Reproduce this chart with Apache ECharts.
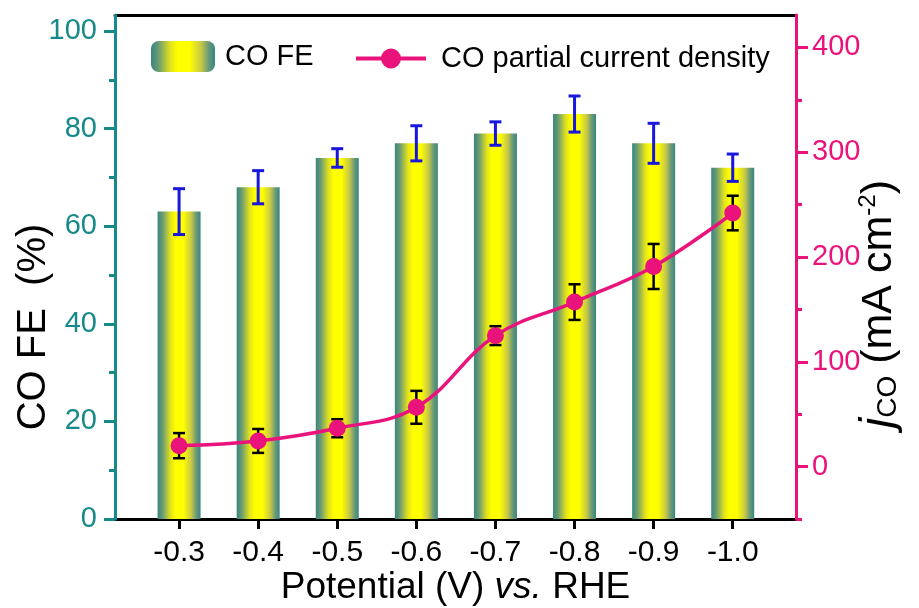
<!DOCTYPE html>
<html>
<head>
<meta charset="utf-8">
<script src="https://cdn.jsdelivr.net/npm/echarts@6/dist/echarts.min.js"></script>
<style>
  html, body { margin: 0; padding: 0; background: #ffffff; }
  #chart { width: 919px; height: 608px; }
</style>
</head>
<body>
<div id="chart"></div>
<script>
// Applied potential (V vs. RHE)
const potentials = [-0.3, -0.4, -0.5, -0.6, -0.7, -0.8, -0.9, -1.0];
// CO Faradaic efficiency (%) and its error
const coFE = [63, 68, 74, 77, 79, 83, 77, 72];
const coFEErr = [4.7, 3.4, 1.9, 3.6, 2.4, 3.7, 4.1, 2.8];
// CO partial current density (mA cm^-2) and its error
const jCO = [20, 24.5, 36.6, 56.6, 125, 157, 191, 242];
const jCOErr = [12, 11.4, 8.6, 15.7, 9, 17, 21.5, 16.5];
// Axis tick positions
const feTicks = [0, 20, 40, 60, 80, 100];
const feMinorTicks = [10, 30, 50, 70, 90];
const jTicks = [0, 100, 200, 300, 400];
const jMinorTicks = [-50, 50, 150, 250, 350];

const TEAL = '#17898a';
const PINK = '#ea137c';
const BLUE = '#1818dc';
const FONT = '"Liberation Sans", Arial, Helvetica, sans-serif';

const X_MIN = -1.08, X_MAX = -0.219;
const FE_MAX = 103.3;
const J_MIN = -50, J_MAX = 431;

const barGradient = new echarts.graphic.LinearGradient(0, 0, 1, 0, [
  { offset: 0, color: '#37867f' },
  { offset: 0.12, color: '#6c9c72' },
  { offset: 0.3, color: '#e2e21c' },
  { offset: 0.42, color: '#ffff00' },
  { offset: 0.6, color: '#ffff00' },
  { offset: 0.78, color: '#c9c945' },
  { offset: 0.9, color: '#6a9a78' },
  { offset: 1, color: '#37867f' }
]);

// Vertical error bar with caps, placed through the axis scales
function errorBarRenderer(color, capHalf, lineWidth) {
  return function (params, api) {
    const x = api.value(0), y = api.value(1), e = api.value(2);
    const top = api.coord([x, y + e]);
    const bot = api.coord([x, y - e]);
    const style = { stroke: color, lineWidth: lineWidth };
    return {
      type: 'group',
      children: [
        { type: 'line', shape: { x1: top[0], y1: top[1], x2: bot[0], y2: bot[1] }, style: style },
        { type: 'line', shape: { x1: top[0] - capHalf, y1: top[1], x2: top[0] + capHalf, y2: top[1] }, style: style },
        { type: 'line', shape: { x1: bot[0] - capHalf, y1: bot[1], x2: bot[0] + capHalf, y2: bot[1] }, style: style }
      ]
    };
  };
}

const feData = potentials.map((p, i) => [p, coFE[i]]);
const feErrData = potentials.map((p, i) => [p, coFE[i], coFEErr[i]]);
const jData = potentials.map((p, i) => [p, jCO[i]]);
const jErrData = potentials.map((p, i) => [p, jCO[i], jCOErr[i]]);

const chart = echarts.init(document.getElementById('chart'), null, { renderer: 'canvas' });

chart.setOption({
  backgroundColor: '#ffffff',
  animation: false,
  textStyle: { fontFamily: FONT },
  grid: { left: 115, right: 123, top: 15, bottom: 89, containLabel: false, outerBoundsMode: 'none' },
  legend: [
    {
      data: ['CO FE'],
      left: 151, top: 41, padding: 0,
      itemWidth: 64, itemHeight: 31,
      textStyle: { fontFamily: FONT, fontSize: 29, color: '#000', padding: [0, 0, 0, 5] }
    },
    {
      data: ['CO partial current density'],
      left: 354, top: 44, padding: 0,
      itemWidth: 70, itemHeight: 25,
      lineStyle: { width: 4 },
      textStyle: { fontFamily: FONT, fontSize: 29, color: '#000', padding: [0, 0, 0, 10] }
    }
  ],
  xAxis: [
    {
      type: 'value', inverse: true, min: X_MIN, max: X_MAX,
      position: 'bottom',
      axisLine: { show: true, onZero: false, lineStyle: { color: '#000', width: 3 } },
      axisTick: { show: true, inside: false, length: 10, lineStyle: { color: '#000', width: 3 }, customValues: potentials },
      axisLabel: {
        show: true, customValues: potentials, margin: 19,
        fontFamily: FONT, fontSize: 30, color: '#000',
        formatter: v => v.toFixed(1)
      },
      splitLine: { show: false },
      name: 'Potential (V) {i|vs.} RHE',
      nameLocation: 'middle', nameGap: 50, nameMoveOverlap: false,
      nameTextStyle: {
        fontFamily: FONT, fontSize: 37, color: '#000',
        rich: { i: { fontFamily: FONT, fontSize: 37, fontStyle: 'italic', color: '#000' } }
      }
    },
    {
      type: 'value', inverse: true, min: X_MIN, max: X_MAX,
      position: 'top',
      axisLine: { show: true, onZero: false, lineStyle: { color: '#000', width: 3 } },
      axisTick: { show: false }, axisLabel: { show: false }, splitLine: { show: false }
    }
  ],
  yAxis: [
    {
      type: 'value', min: 0, max: FE_MAX, position: 'left', z: 2,
      axisLine: { show: true, onZero: false, lineStyle: { color: TEAL, width: 3 } },
      axisTick: { show: true, inside: false, length: 11, lineStyle: { color: TEAL, width: 3 }, customValues: feTicks },
      axisLabel: { show: true, customValues: feTicks, margin: 18, fontFamily: FONT, fontSize: 29, color: TEAL },
      splitLine: { show: false },
      name: 'CO FE  (%)', nameLocation: 'middle', nameGap: 61, nameRotate: 90, nameMoveOverlap: false,
      nameTextStyle: { fontFamily: FONT, fontSize: 40, color: '#000', padding: [0, 120, 0, 0] }
    },
    {
      type: 'value', min: 0, max: FE_MAX, position: 'left', z: 2,
      axisLine: { show: false },
      axisTick: { show: true, inside: false, length: 6, lineStyle: { color: TEAL, width: 3 }, customValues: feMinorTicks },
      axisLabel: { show: false }, splitLine: { show: false }
    },
    {
      type: 'value', min: J_MIN, max: J_MAX, position: 'right', z: 2,
      axisLine: { show: true, onZero: false, lineStyle: { color: PINK, width: 3 } },
      axisTick: { show: true, inside: false, length: 12, lineStyle: { color: PINK, width: 3 }, customValues: jTicks },
      axisLabel: { show: true, customValues: jTicks, margin: 16, fontFamily: FONT, fontSize: 29, color: PINK },
      splitLine: { show: false },
      name: '{j|j}{sub|CO} (mA cm{sup|-2})', nameLocation: 'middle', nameGap: 60, nameRotate: 90, nameMoveOverlap: false,
      nameTextStyle: {
        fontFamily: FONT, fontSize: 43, color: '#000', padding: [0, 74, 0, 0],
        rich: {
          j: { fontFamily: FONT, fontSize: 46, fontStyle: 'italic', color: '#000' },
          sub: { fontFamily: FONT, fontSize: 28, color: '#000', verticalAlign: 'bottom' },
          sup: { fontFamily: FONT, fontSize: 24, color: '#000', verticalAlign: 'top' }
        }
      }
    },
    {
      type: 'value', min: J_MIN, max: J_MAX, position: 'right', z: 2,
      axisLine: { show: false },
      axisTick: { show: true, inside: false, length: 6, lineStyle: { color: PINK, width: 3 }, customValues: jMinorTicks },
      axisLabel: { show: false }, splitLine: { show: false }
    }
  ],
  series: [
    {
      name: 'CO FE', type: 'bar', xAxisIndex: 0, yAxisIndex: 0,
      barWidth: 43, z: 2,
      itemStyle: { color: barGradient },
      data: feData
    },
    {
      name: 'FE error', type: 'custom', xAxisIndex: 0, yAxisIndex: 0, z: 3,
      renderItem: errorBarRenderer(BLUE, 6, 3),
      encode: { x: 0, y: 1 },
      data: feErrData
    },
    {
      name: 'j error', type: 'custom', xAxisIndex: 0, yAxisIndex: 2, z: 4,
      renderItem: errorBarRenderer('#000', 6, 2.5),
      encode: { x: 0, y: 1 },
      data: jErrData
    },
    {
      name: 'CO partial current density', type: 'line', xAxisIndex: 0, yAxisIndex: 2, z: 5,
      smooth: 0.4,
      symbol: 'circle', symbolSize: 17,
      lineStyle: { color: PINK, width: 3.5 },
      itemStyle: { color: PINK },
      data: jData
    }
  ]
});
</script>
</body>
</html>
